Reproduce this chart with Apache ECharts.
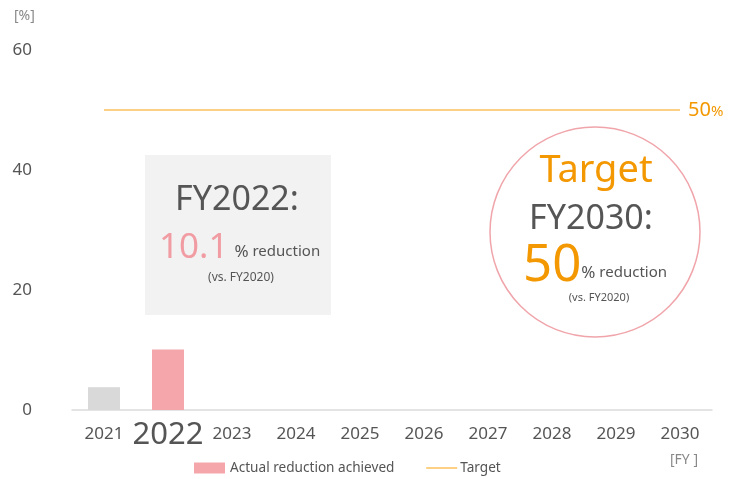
<!DOCTYPE html>
<html>
<head>
<meta charset="utf-8">
<script src="https://cdn.jsdelivr.net/npm/echarts@6/dist/echarts.min.js"></script>
<style>
  html, body { margin: 0; padding: 0; background: #fff; }
  #chart { width: 734px; height: 479px; }
</style>
</head>
<body>
<div id="chart"></div>
<script>
var years = ['2021', '2022', '2023', '2024', '2025', '2026', '2027', '2028', '2029', '2030'];
var actualValues = [3.8, 10.1, null, null, null, null, null, null, null, null];
var barColors = ['#d9d9d9', '#f4a6ab'];
var targetValues = [50, 50, 50, 50, 50, 50, 50, 50, 50, 50];
var yTicks = [0, 20, 40, 60];

var font = '"Noto Sans", "Open Sans", sans-serif';
var grey = '#555';
var orange = '#f39800';
var pink = '#f19ca3';
var lineColor = '#fbc25e';

var chart = echarts.init(document.getElementById('chart'));

var barData = actualValues.map(function (v, i) {
  return { value: v, itemStyle: { color: barColors[i] || '#f4a6ab' } };
});

chart.setOption({
  animation: false,
  textStyle: { fontFamily: font },
  grid: { left: 72, right: 22, top: 50, bottom: 69 },
  legend: {
    bottom: 4,
    left: 194,
    padding: 0,
    itemGap: 31,
    itemWidth: 31,
    itemHeight: 11,
    textStyle: { color: grey, fontSize: 13.6, fontFamily: font },
    data: [
      { name: 'Actual reduction achieved', icon: 'rect', itemStyle: { color: '#f4a6ab' } },
      {
        name: 'Target',
        itemStyle: { color: 'rgba(0,0,0,0)', borderWidth: 0 },
        lineStyle: { color: lineColor, width: 1.5 },
        textStyle: { padding: [0, 0, 4, -2] }
      }
    ]
  },
  xAxis: {
    type: 'category',
    data: years,
    axisTick: { show: false },
    axisLine: { lineStyle: { color: '#dcdcdc', width: 1.5 } },
    axisLabel: {
      interval: 0,
      margin: 10,
      color: grey,
      fontFamily: font,
      formatter: function (v) {
        return v === '2022' ? '{big|' + v + '}' : '{n|' + v + '}';
      },
      rich: {
        n: { fontSize: 17, color: grey, fontFamily: font, padding: [6, 0, 0, 0] },
        big: { fontSize: 31, color: grey, fontFamily: font }
      }
    }
  },
  yAxis: {
    type: 'value',
    min: yTicks[0],
    max: yTicks[yTicks.length - 1],
    interval: 20,
    splitLine: { show: false },
    axisLine: { show: false },
    axisTick: { show: false },
    axisLabel: { color: grey, fontSize: 17, fontFamily: font, margin: 40 }
  },
  series: [
    {
      name: 'Actual reduction achieved',
      type: 'bar',
      barWidth: 32,
      data: barData
    },
    {
      name: 'Target',
      type: 'line',
      symbol: 'none',
      data: targetValues,
      lineStyle: { color: lineColor, width: 1.5 },
      itemStyle: { color: lineColor },
      endLabel: {
        show: true,
        distance: 8,
        formatter: '{a|50}{b|%}',
        rich: {
          a: { fontSize: 20, color: orange, fontFamily: font },
          b: { fontSize: 15, color: orange, fontFamily: font, padding: [4, 0, 0, 0] }
        }
      }
    }
  ],
  graphic: [
    { type: 'text', left: 14, top: 9, style: { text: '[%]', fontSize: 14, fill: '#888', fontFamily: font } },
    { type: 'text', left: 670, top: 453, style: { text: '[FY ]', fontSize: 14, fill: '#888', fontFamily: font } },
    // FY2022 box
    { type: 'rect', shape: { x: 145, y: 155, width: 186, height: 160 }, style: { fill: '#f2f2f2' }, z: -1 },
    { type: 'text', x: 237, y: 200, style: { text: 'FY2022:', fontSize: 34, fill: grey, fontFamily: font, align: 'center', verticalAlign: 'middle' } },
    { type: 'text', x: 159, y: 248, style: {
        text: '{a|10.1}{b|%}{c| reduction}',
        fontFamily: font, verticalAlign: 'middle',
        rich: {
          a: { fontSize: 35, fill: pink, fontFamily: font },
          b: { fontSize: 17, fill: grey, fontFamily: font, padding: [8, 0, 0, 6] },
          c: { fontSize: 15, fill: grey, fontFamily: font, padding: [8, 0, 0, 0] }
        }
    } },
    { type: 'text', x: 241, y: 278, style: { text: '(vs. FY2020)', fontSize: 12, fill: grey, fontFamily: font, align: 'center', verticalAlign: 'middle' } },
    // target circle
    { type: 'circle', shape: { cx: 595, cy: 232, r: 105 }, style: { fill: 'none', stroke: '#f0a5ab', lineWidth: 1.5 } },
    { type: 'text', x: 596, y: 171, style: { text: 'Target', fontSize: 38, fill: orange, fontFamily: font, align: 'center', verticalAlign: 'middle' } },
    { type: 'text', x: 591, y: 219, style: { text: 'FY2030:', fontSize: 34, fill: grey, fontFamily: font, align: 'center', verticalAlign: 'middle' } },
    { type: 'text', x: 523, y: 266, style: {
        text: '{a|50}{b|%}{c| reduction}',
        fontFamily: font, verticalAlign: 'middle',
        rich: {
          a: { fontSize: 51, fill: orange, fontFamily: font },
          b: { fontSize: 17, fill: grey, fontFamily: font, padding: [14, 0, 0, 0] },
          c: { fontSize: 15, fill: grey, fontFamily: font, padding: [14, 0, 0, 0] }
        }
    } },
    { type: 'text', x: 599, y: 298, style: { text: '(vs. FY2020)', fontSize: 11, fill: grey, fontFamily: font, align: 'center', verticalAlign: 'middle' } }
  ]
});
</script>
</body>
</html>
